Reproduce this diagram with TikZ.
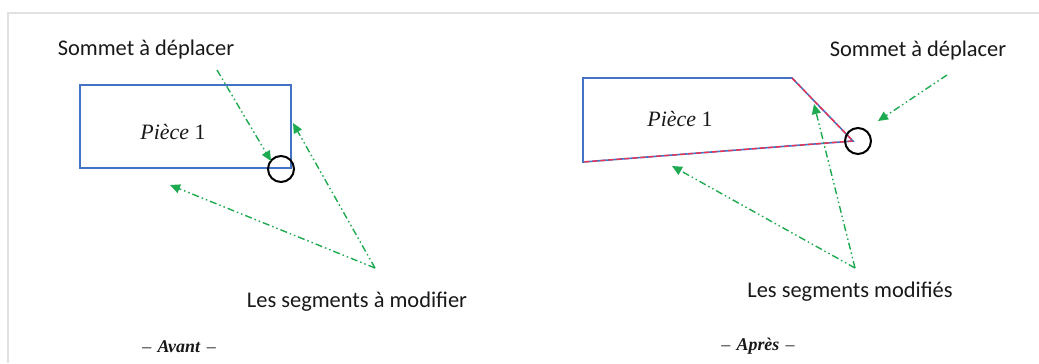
\documentclass[tikz,border=0pt]{standalone}
\usepackage{fontspec}
\setmainfont{Carlito}
\newfontfamily\pieceserif[Ligatures=TeX]{Liberation Serif}
\usetikzlibrary{arrows.meta}
\definecolor{pieceblue}{RGB}{68,114,196}
\definecolor{arrowgreen}{RGB}{30,170,80}
\definecolor{modred}{RGB}{240,50,80}
\definecolor{framegray}{RGB}{225,225,225}
\definecolor{txt}{RGB}{25,25,25}
\tikzset{
  lbl/.style={inner sep=0pt, text=txt, font=\fontsize{22.5}{27}\selectfont},
  piecelbl/.style={inner sep=0pt, text=txt, font=\pieceserif\fontsize{22}{26}\selectfont},
  caption/.style={inner sep=0pt, text=txt, font=\pieceserif\fontsize{18}{21}\selectfont},
  piece/.style={draw=pieceblue, line width=1.6bp},
  modseg/.style={draw=modred, line width=1.4bp, dash pattern=on 5bp off 3bp},
  vertexmark/.style={circle, draw=black, line width=2bp, minimum size=26bp, inner sep=0pt},
  pointer/.style={draw=arrowgreen, line width=1.4bp,
    dash pattern=on 7bp off 3bp on 1.5bp off 3bp on 1.5bp off 3bp,
    -{Triangle[length=10bp,width=9bp]}},
}
\begin{document}
\begin{tikzpicture}[x=1bp,y=-1bp]
\useasboundingbox (0,0) rectangle (1039,363);
\fill[white] (0,0) rectangle (1039,363);
% frame
\draw[framegray, line width=2.5bp] (8,363) -- (8,13) -- (1039,13);

% ---------- Avant ----------
\node[lbl] (sommetA) at (146,50) {Sommet à déplacer};
\draw[piece] (80,85) rectangle (291,168);
\node[piecelbl] (pieceA) at (173,132) {\textit{Pièce}\ 1};
\node[vertexmark] (circA) at (281,169) {};
\coordinate (startA) at (217,70);
\coordinate (tipA1) at (271,161);
\coordinate (apexA) at (375,268);
\coordinate (tipA2) at (293,123);
\coordinate (tipA3) at (170,185);
\draw[pointer] (startA) -- (tipA1);
\draw[pointer] (apexA) -- (tipA2);
\draw[pointer] (apexA) -- (tipA3);
\node[lbl] (segA) at (357,302) {Les segments à modifier};
\node[caption] (avant) at (179,347) {–\hspace{0.35em}\textit{\textbf{Avant}}\hspace{0.35em}–};

% ---------- Après ----------
\coordinate (tl) at (583,78);
\coordinate (tr) at (792,78);
\coordinate (vx) at (853,141);
\coordinate (bl) at (583,162);
\draw[piece] (bl) -- (tl) -- (tr) -- (vx) -- cycle;
\draw[modseg] (tr) -- (vx) -- (bl);
\node[piecelbl] (pieceB) at (680,119) {\textit{Pièce}\ 1};
\node[vertexmark] (circB) at (858,141) {};
\node[lbl] (sommetB) at (918,51) {Sommet à déplacer};
\coordinate (startB) at (947,75);
\coordinate (tipB1) at (878,121);
\coordinate (apexB) at (855,268);
\coordinate (tipB2) at (814,104);
\coordinate (tipB3) at (672,166);
\draw[pointer] (startB) -- (tipB1);
\draw[pointer] (apexB) -- (tipB2);
\draw[pointer] (apexB) -- (tipB3);
\node[lbl] (segB) at (850,292) {Les segments modifiés};
\node[caption] (apres) at (758,346) {–\hspace{0.35em}\textit{\textbf{Après}}\hspace{0.35em}–};
\end{tikzpicture}
\end{document}
